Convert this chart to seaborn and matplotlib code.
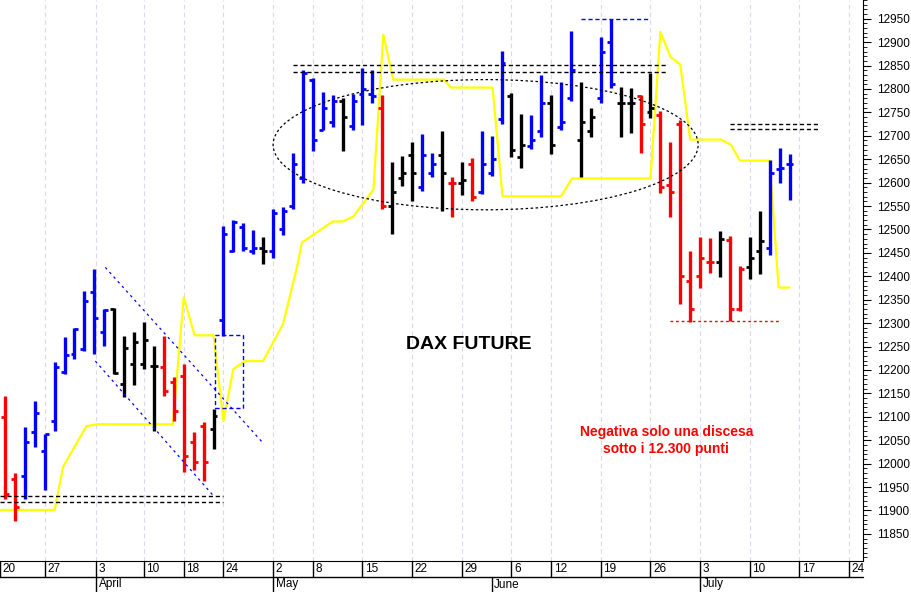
import matplotlib
matplotlib.use("Agg")
import matplotlib.pyplot as plt
import matplotlib.transforms as mtrans
from matplotlib.patches import Ellipse, Rectangle
from matplotlib.ticker import MultipleLocator
import seaborn as sns
import pandas as pd
import numpy as np

sns.set_style("white")
plt.rcParams['font.family'] = ['Liberation Sans', 'DejaVu Sans']
plt.rcParams['text.color'] = 'black'
plt.rcParams['ytick.color'] = 'black'
plt.rcParams['ytick.labelcolor'] = 'black'

# OHLC data (trading-day index order), colour codes: B blue, R red, K black
highs = [12144,11980,12078,12133,12063,12217,12270,12289,12368,12415,12330,12332,12272,12280,12302,12251,12272,12185,12212,12067,12089,12116,
         12507,12521,12513,12498,12483,12543,12549,12664,12841,12824,12794,12788,12781,12790,12845,12841,12788,12643,12656,12686,12703,12664,12711,12613,12645,12652,12711,12699,12882,12792,
         12747,12745,12830,12788,12814,12924,12814,12760,12912,12950,12805,12803,12788,12835,12752,12686,12733,12455,12483,12481,12496,12485,12421,12483,12539,12649,12675,12662]
lows = [11924,11878,11924,12035,11944,12069,12191,12223,12240,12234,12251,12191,12142,12167,12202,12069,12144,12091,11982,11986,11963,12031,
        12272,12451,12453,12447,12426,12440,12489,12543,12600,12667,12713,12718,12667,12713,12724,12770,12543,12491,12592,12560,12582,12611,12539,12526,12573,12560,12575,12615,12726,12654,
        12632,12671,12698,12662,12713,12775,12611,12698,12769,12803,12698,12707,12664,12739,12577,12526,12340,12302,12374,12406,12398,12304,12325,12394,12404,12445,12600,12562]
opens = [12099,11967,11973,12067,12027,12091,12195,12234,12244,12366,12280,12330,12170,12212,12212,12208,12206,12174,12187,12046,12080,12074,
         12306,12455,12505,12455,12460,12455,12500,12550,12610,12820,12713,12730,12775,12720,12790,12790,12760,12550,12610,12660,12590,12620,12660,12600,12600,12640,12580,12620,12735,12785,
         12655,12678,12710,12770,12718,12780,12690,12710,12780,12900,12770,12770,12785,12750,12745,12595,12725,12390,12400,12430,12430,12477,12330,12420,12455,12460,12630,12640]
closes = [11935,11907,12046,12108,12063,12206,12231,12287,12347,12310,12327,12193,12246,12259,12263,12208,12155,12112,12016,12003,12003,12101,
          12490,12515,12460,12460,12455,12535,12540,12640,12835,12690,12760,12775,12740,12775,12800,12785,12550,12580,12620,12620,12660,12640,12620,12600,12605,12570,12640,12650,12855,12670,
          12680,12690,12770,12680,12730,12840,12730,12740,12880,12810,12770,12770,12725,12760,12590,12580,12400,12330,12440,12430,12480,12330,12415,12440,12475,12620,12632,12640]
colors = list("RRBBBBBBBBBKKKKKRRRRRK" + "BBBBKBBBBBBBKBBBRKKKBBKRKRBBBK" + "KBBKBBKKBBKKRKRRRRRRKRRKKBBB")

# yellow indicator line (index, value)
yl_x = [-0.5,5.0,5.85,8.2,9.3,16.9,18.0,19.1,21.0,22.0,23.0,24.2,26.0,28.0,29.4,29.9,33.0,34.0,35.1,37.1,38.1,39.1,44.2,44.9,49.1,50.1,56.0,57.1,65.0,66.0,67.0,68.0,69.0,72.1,73.1,74.0,77.0,77.9,79.0]
yl_y = [11901,11901,11993,12080,12084,12084,12355,12274,12274,12091,12202,12219,12219,12298,12419,12472,12517,12517,12528,12585,12916,12820,12820,12803,12803,12571,12571,12609,12609,12922,12869,12852,12692,12692,12681,12647,12647,12376,12376]

# date band
sep_pos = [-0.5,4,9.2,14,18,22,27,31,36,41,46,51,55,60,65,70,75,80,85]
sep_lab = ["20","27","3","10","18","24","2","8","15","22","29","6","12","19","26","3","10","17","24"]
month_pos = [9.2,27,49,70]
month_lab = ["April","May","June","July"]

col = {"B": "#0000FF", "R": "#FF0000", "K": "#000000"}

fig = plt.figure(figsize=(9.12, 5.92), dpi=100)
ax = fig.add_axes([0.0, 31/592, 863/912, 561/592])
ax.set_xlim(-0.5, 86.4)
ax.set_ylim(11792, 12990)

for x in sep_pos[1:]:
    ax.axvline(x, color="#d8d8f0", lw=0.8, ls=(0, (4, 3)), zorder=0)

df = pd.DataFrame({"x": yl_x, "y": yl_y})
sns.lineplot(data=df, x="x", y="y", ax=ax, color="#FFFF00", lw=1.6, zorder=2, sort=False)

idx = np.arange(len(highs))
for i in idx:
    c = col[colors[i]]
    ax.vlines(i, lows[i], highs[i], color=c, lw=2.4, zorder=3)
    ax.hlines(opens[i], i - 0.4, i, color=c, lw=2, zorder=3)
    ax.hlines(closes[i], i, i + 0.4, color=c, lw=2, zorder=3)

dash = (0, (3, 2))
for yv in [11931, 11918]:
    ax.hlines(yv, -0.5, 22, color="black", lw=1, ls=dash, zorder=4)
for yv in [12852, 12837]:
    ax.hlines(yv, 29, 66.8, color="black", lw=1, ls=dash, zorder=4)
for yv in [12726, 12715]:
    ax.hlines(yv, 73, 82, color="black", lw=1, ls=dash, zorder=4)
ax.hlines(12950, 58, 65, color="#0000FF", lw=1, ls=dash, zorder=4)
ax.hlines(12304, 67, 78, color="#FF0000", lw=1, ls=(0, (2, 2)), zorder=4)
ax.plot([10.1, 25.9], [12419, 12046], color="#0000FF", lw=0.9, ls=(0, (2, 3)), zorder=4)
ax.plot([9.1, 21.0], [12219, 11931], color="#0000FF", lw=0.9, ls=(0, (2, 3)), zorder=4)
ax.add_patch(Rectangle((21.1, 12119), 2.9, 155, fill=False, ec="#0000FF", lw=1, ls=(0, (3, 2)), zorder=4))
ax.add_patch(Ellipse((48.4, 12681), 42.8, 278, fill=False, ec="black", lw=0.9, ls=(0, (2, 2)), zorder=4))

ax.text(46.7, 12255, "DAX FUTURE", fontsize=14, fontweight="bold", color="black", ha="center", va="center")
ax.text(66.6, 12050, "Negativa solo una discesa\nsotto i 12.300 punti", fontsize=10, fontweight="bold",
        color="#FF0000", ha="center", va="center", linespacing=1.3)

# axes styling
for s in ["top", "left"]:
    ax.spines[s].set_visible(False)
ax.spines["right"].set_color("black")
ax.spines["bottom"].set_color("black")
ax.yaxis.tick_right()
ax.yaxis.set_major_locator(MultipleLocator(50))
ax.yaxis.set_minor_locator(MultipleLocator(10))
ax.set_yticks(np.arange(11850, 12951, 50))
ax.tick_params(axis="y", which="major", length=6, labelsize=8.5, pad=4, right=True, direction="out", colors="black")
ax.tick_params(axis="y", which="minor", length=3, right=True, direction="out", colors="black")
ax.set_xticks([])
ax.set_xlabel("")
ax.set_ylabel("")

tr = mtrans.blended_transform_factory(ax.transData, ax.transAxes)
r1 = -16 / 561
r2 = -31 / 561
ax.plot([-0.5, 86.4], [r1, r1], color="black", lw=1, transform=tr, clip_on=False)
for x, lab in zip(sep_pos, sep_lab):
    ax.plot([x, x], [0, r1], color="black", lw=1, transform=tr, clip_on=False)
    ax.text(x + 0.25, r1 / 2, lab, fontsize=8.5, color="black", ha="left", va="center", transform=tr)
for x, lab in zip(month_pos, month_lab):
    ax.plot([x, x], [r1, r2], color="black", lw=1, transform=tr, clip_on=False)
    ax.text(x + 0.25, (r1 + r2) / 2, lab, fontsize=8.5, color="black", ha="left", va="center", transform=tr)

fig.savefig("out.png", dpi=100)
